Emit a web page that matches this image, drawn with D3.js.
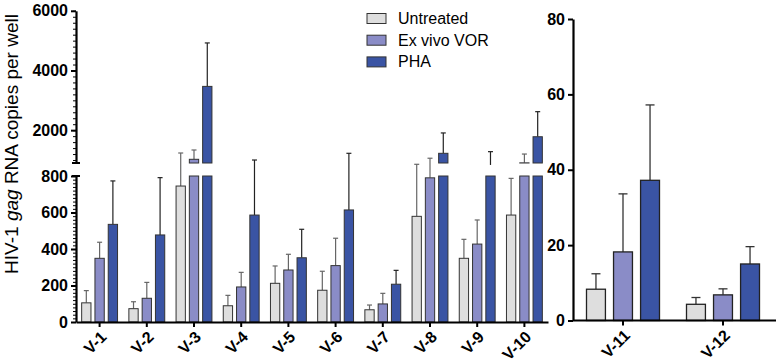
<!doctype html>
<html lang="en">
<head>
  <meta charset="UTF-8">
  <script src="https://cdn.jsdelivr.net/npm/d3@7"></script>
  <title>HIV-1 gag RNA</title>
  <style>
    body{ margin:0; background:#fff; }
    svg{ font-family: "Liberation Sans", Arial, sans-serif; }
    .axis path, .axis line{ stroke:#000; }
    .axis text{ font-size:16px; font-weight:bold; fill:#000; }
  </style>
</head>
<body>
  <div class="chart"></div>
  <script>
    // data (mean and SD)
    const series = ['Untreated', 'Ex vivo VOR', 'PHA'];
    const groupsLeft = ['V-1','V-2','V-3','V-4','V-5','V-6','V-7','V-8','V-9','V-10'];
    const untreatedLeft = [105, 73, 745, 89, 212, 174, 67, 579, 349, 586];
    const untreatedLeftSd = [67, 38, 490, 57, 95, 104, 26, 311, 104, 201];
    const vorLeft = [349, 130, 1024, 192, 285, 309, 99, 790, 427, 905];
    const vorLeftSd = [88, 87, 312, 80, 86, 150, 58, 270, 132, 295];
    const phaLeft = [535, 477, 3467, 586, 352, 614, 207, 1225, 885, 1780];
    const phaLeftSd = [238, 314, 1456, 414, 156, 611, 76, 682, 395, 840];

    const groupsRight = ['V-11','V-12'];
    const untreatedRight = [8.3, 4.3];
    const untreatedRightSd = [4.1, 1.8];
    const vorRight = [18.2, 6.8];
    const vorRightSd = [15.4, 1.6];
    const phaRight = [37.2, 15.0];
    const phaRightSd = [20.0, 4.6];

    const lowTicks = [0, 200, 400, 600, 800];
    const highTicks = [2000, 4000, 6000];
    const rightTicks = [0, 20, 40, 60, 80];

    const colors = {'Untreated':'#dedede', 'Ex vivo VOR':'#8a8cc7', 'PHA':'#3a54a4'};
    const whisk = {'Untreated':'#666', 'Ex vivo VOR':'#666', 'PHA':'#222'};

    const svg = d3.select('.chart').append('svg').attr('width', 776).attr('height', 363);
    const fmt = d3.format('d');

    function rows(groups, vals, sds) {
      return groups.map((g, i) => ({
        group: g,
        bars: series.map((s, k) => ({ key: s, v: vals[k][i], sd: sds[k][i] }))
      }));
    }
    const leftData = rows(groupsLeft, [untreatedLeft, vorLeft, phaLeft], [untreatedLeftSd, vorLeftSd, phaLeftSd]);
    const rightData = rows(groupsRight, [untreatedRight, vorRight, phaRight], [untreatedRightSd, vorRightSd, phaRightSd]);

    // slanted category labels: outer g positions, inner text rotates
    function xLabels(scale, yBase) {
      const g = svg.append('g').selectAll('g').data(scale.domain()).enter().append('g')
        .attr('transform', d => `translate(${scale(d) + scale.bandwidth() / 2 + 4},${yBase + 12})`);
      g.append('text')
        .attr('transform', 'rotate(-45)')
        .attr('text-anchor', 'end').attr('dy', '0.35em')
        .style('font-size', '16px').style('font-weight', 'bold')
        .text(d => d);
    }

    // ---------- left panel (broken y axis) ----------
    const axL = 76, base = 322;
    const breakLo = 800, breakHi = 900;
    const yLow = d3.scaleLinear().domain([0, breakLo]).range([base, 176]);
    const yHigh = d3.scaleLinear().domain([breakHi, 6000]).range([163, 10.8]);
    const yGap = d3.scaleLinear().domain([breakLo, breakHi]).range([176, 163]);
    const yL = v => v <= breakLo ? yLow(v) : (v < breakHi ? yGap(v) : yHigh(v));

    const x0L = d3.scaleBand().domain(groupsLeft).range([axL, 548]).paddingInner(0.24).paddingOuter(0.12);
    const x1L = d3.scaleBand().domain(series).range([0, x0L.bandwidth()]).paddingInner(0.3);

    const gL = svg.selectAll('g.grpL').data(leftData).enter().append('g')
      .attr('transform', d => `translate(${x0L(d.group)},0)`);
    // whiskers first so bars sit on top
    gL.selectAll('g.w').data(d => d.bars).enter().append('g').each(function (b) {
      const cx = x1L(b.key) + x1L.bandwidth() / 2;
      const g = d3.select(this).attr('stroke', whisk[b.key]).attr('stroke-width', 1.2);
      g.append('line').attr('x1', cx).attr('x2', cx).attr('y1', yL(b.v)).attr('y2', yL(b.v + b.sd));
      g.append('line').attr('x1', cx - 2.5).attr('x2', cx + 2.5).attr('y1', yL(b.v + b.sd)).attr('y2', yL(b.v + b.sd));
    });
    // lower segment bars
    gL.selectAll('rect.lo').data(d => d.bars).enter().append('rect')
      .attr('x', b => x1L(b.key)).attr('width', x1L.bandwidth())
      .attr('y', b => yLow(Math.min(b.v, breakLo)))
      .attr('height', b => base - yLow(Math.min(b.v, breakLo)))
      .attr('fill', b => colors[b.key]).attr('stroke', '#333').attr('stroke-width', 1);
    // upper segment bars
    gL.selectAll('rect.hi').data(d => d.bars.filter(b => b.v > breakHi)).enter().append('rect')
      .attr('x', b => x1L(b.key)).attr('width', x1L.bandwidth())
      .attr('y', b => yHigh(b.v))
      .attr('height', b => yHigh(breakHi) - yHigh(b.v))
      .attr('fill', b => colors[b.key]).attr('stroke', '#333').attr('stroke-width', 1);

    // axes
    const aLow = svg.append('g').attr('class', 'axis').attr('transform', `translate(${axL},0)`)
      .call(d3.axisLeft(yLow).tickValues(lowTicks).tickFormat(fmt).tickSize(5).tickSizeOuter(0));
    svg.append('g').attr('class', 'axis').attr('transform', `translate(${axL},0)`)
      .call(d3.axisLeft(yLow).tickValues(d3.range(0, 801, 20)).tickFormat('').tickSize(3).tickSizeOuter(0))
      .select('.domain').remove();
    const aHigh = svg.append('g').attr('class', 'axis').attr('transform', `translate(${axL},0)`)
      .call(d3.axisLeft(yHigh).tickValues(highTicks).tickFormat(fmt).tickSize(5).tickSizeOuter(0));
    svg.append('g').attr('class', 'axis').attr('transform', `translate(${axL},0)`)
      .call(d3.axisLeft(yHigh).tickValues(d3.range(1000, 6001, 200)).tickFormat('').tickSize(3).tickSizeOuter(0))
      .select('.domain').remove();
    [aLow, aHigh].forEach(a => {
      a.select('.domain').attr('stroke-width', 2.2);
      a.selectAll('.tick line').attr('stroke-width', 2);
    });
    // caps at the break
    svg.append('line').attr('x1', axL - 4).attr('x2', axL + 4).attr('y1', yLow(breakLo)).attr('y2', yLow(breakLo)).attr('stroke', '#000').attr('stroke-width', 2);
    svg.append('line').attr('x1', axL - 4).attr('x2', axL + 4).attr('y1', yHigh(breakHi)).attr('y2', yHigh(breakHi)).attr('stroke', '#000').attr('stroke-width', 2);

    const xAxL = svg.append('g').attr('class', 'axis').attr('transform', `translate(0,${base})`)
      .call(d3.axisBottom(x0L).tickSize(5).tickSizeOuter(0).tickFormat(''));
    xAxL.select('.domain').attr('stroke-width', 2.2);
    xAxL.selectAll('line').attr('stroke-width', 2);
    xLabels(x0L, base);

    // ---------- right panel ----------
    const axR = 573, baseR = 320.5;
    const yR = d3.scaleLinear().domain([0, 80]).range([baseR, 19]);
    const x0R = d3.scaleBand().domain(groupsRight).range([axR, 773]).paddingInner(0.27).paddingOuter(0.135);
    const x1R = d3.scaleBand().domain(series).range([0, x0R.bandwidth()]).paddingInner(0.3);

    const gR = svg.selectAll('g.grpR').data(rightData).enter().append('g')
      .attr('transform', d => `translate(${x0R(d.group)},0)`);
    gR.selectAll('g.w').data(d => d.bars).enter().append('g').each(function (b) {
      const cx = x1R(b.key) + x1R.bandwidth() / 2;
      const g = d3.select(this).attr('stroke', '#333').attr('stroke-width', 1.3);
      g.append('line').attr('x1', cx).attr('x2', cx).attr('y1', yR(b.v)).attr('y2', yR(b.v + b.sd));
      g.append('line').attr('x1', cx - 4.5).attr('x2', cx + 4.5).attr('y1', yR(b.v + b.sd)).attr('y2', yR(b.v + b.sd));
    });
    gR.selectAll('rect').data(d => d.bars).enter().append('rect')
      .attr('x', b => x1R(b.key)).attr('width', x1R.bandwidth())
      .attr('y', b => yR(b.v)).attr('height', b => baseR - yR(b.v))
      .attr('fill', b => colors[b.key]).attr('stroke', '#222').attr('stroke-width', 1.3);

    const aR = svg.append('g').attr('class', 'axis').attr('transform', `translate(${axR},0)`)
      .call(d3.axisLeft(yR).tickValues(rightTicks).tickSize(5).tickSizeOuter(0));
    aR.select('.domain').attr('stroke-width', 2.2);
    aR.selectAll('line').attr('stroke-width', 2);
    const xAxR = svg.append('g').attr('class', 'axis').attr('transform', `translate(0,${baseR})`)
      .call(d3.axisBottom(x0R).tickSize(5).tickSizeOuter(0).tickFormat(''));
    xAxR.select('.domain').attr('d', `M${axR},0H776`).attr('stroke-width', 2.2);
    xAxR.selectAll('line').attr('stroke-width', 2);
    xLabels(x0R, baseR);

    // ---------- y label ----------
    const yl = svg.append('text').attr('transform', 'translate(18,144) rotate(-90)')
      .attr('text-anchor', 'middle').style('font-size', '19px');
    yl.append('tspan').text('HIV-1 ');
    yl.append('tspan').style('font-style', 'italic').text('gag');
    yl.append('tspan').text(' RNA copies per well');

    // ---------- legend ----------
    const leg = svg.selectAll('g.leg').data(series).enter().append('g')
      .attr('transform', (d, i) => `translate(367,${13.5 + i * 21.7})`);
    leg.append('rect').attr('width', 19).attr('height', 10)
      .attr('fill', d => colors[d]).attr('stroke', '#333').attr('stroke-width', 1);
    leg.append('text').attr('x', 31).attr('y', 10.5).style('font-size', '16px').text(d => d);
  </script>
</body>
</html>
